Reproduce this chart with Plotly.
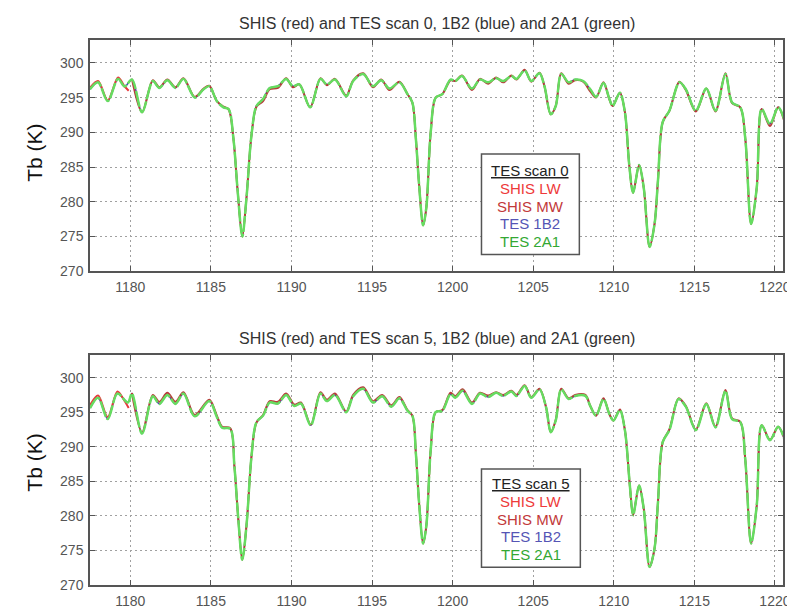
import plotly.graph_objects as go
from plotly.subplots import make_subplots

# ---------------- data ----------------
x_ticks = [1180, 1185, 1190, 1195, 1200, 1205, 1210, 1215, 1220]
y_ticks = [270, 275, 280, 285, 290, 295, 300]

# scan 0 (top panel)
wn0 = [1177.5, 1178.0, 1178.6, 1179.24, 1179.65, 1180.1, 1180.73, 1181.4, 1181.8, 1182.3,
       1182.8, 1183.3, 1184.0, 1184.55, 1184.9, 1185.37, 1185.78, 1186.1, 1186.4, 1186.66,
       1186.95, 1187.21, 1187.52, 1187.83, 1188.24, 1188.65, 1189.16, 1189.67, 1190.08, 1190.49,
       1191.16, 1191.8, 1192.2, 1192.7, 1193.4, 1193.83, 1194.45, 1195.06, 1195.57, 1196.08,
       1196.7, 1197.2, 1197.5, 1197.72, 1197.92, 1198.17, 1198.37, 1198.64, 1198.95, 1199.36,
       1199.87, 1200.17, 1200.58, 1201.2, 1201.7, 1202.2, 1202.7, 1203.14, 1203.65, 1203.96,
       1204.47, 1204.88, 1205.39, 1205.7, 1206.09, 1206.4, 1206.74, 1207.2, 1207.6, 1208.1,
       1208.54, 1208.9, 1209.36, 1209.73, 1209.93, 1210.38, 1210.69, 1210.96, 1211.2, 1211.57,
       1211.86, 1212.22, 1212.53, 1212.74, 1213.04, 1213.45, 1214.07, 1214.47, 1215.09, 1215.74,
       1216.31, 1216.93, 1217.34, 1217.85, 1218.16, 1218.52, 1218.87, 1219.18, 1219.69, 1220.2,
       1220.57]
tes_2a1_0 = [296.2, 297.2, 294.5, 297.7, 296.6, 297.6, 292.9, 297.4, 296.4, 297.5,
             296.4, 297.7, 295.0, 296.2, 296.65, 294.5, 293.6, 293.35, 289.1, 281.6,
             275.0, 280.6, 289.6, 293.8, 294.8, 296.4, 296.65, 297.7, 296.65, 296.9,
             293.6, 297.7, 296.9, 297.6, 295.2, 297.4, 298.4, 296.65, 297.5, 296.3,
             297.2, 295.5, 294.3, 289.1, 282.5, 276.6, 279.2, 290.0, 295.0, 295.5,
             297.6, 297.4, 298.1, 296.3, 297.6, 297.2, 297.8, 297.4, 298.1, 297.7,
             298.9, 297.4, 298.5, 296.65, 292.6, 293.8, 298.4, 297.2, 297.6, 297.4,
             296.2, 295.1, 297.1, 294.8, 293.8, 295.7, 292.9, 285.3, 281.3, 285.3,
             282.0, 273.5, 276.8, 283.0, 291.5, 293.1, 297.2, 296.2, 293.1, 296.3,
             293.1, 298.4, 294.3, 293.6, 289.1, 276.8, 282.0, 293.35, 291.2, 293.6,
             291.9]
tes_1b2_0 = tes_2a1_0
shis_lw_wn0 = [1177.5, 1178.0, 1178.6, 1179.24, 1179.65, 1179.9]
shis_lw_0 = [296.4, 297.4, 294.6, 297.9, 296.6, 296.0]
shis_mw_wn0 = wn0[5:]
shis_mw_0 = [297.7, 292.9, 297.5, 296.5, 297.6,
             296.5, 297.8, 295.1, 296.3, 296.7, 294.5, 293.7, 293.3, 289.1, 281.6,
             275.0, 280.6, 289.6, 293.7, 294.5, 296.2, 296.4, 297.8, 296.5, 296.9,
             293.6, 297.8, 296.8, 297.7, 295.3, 297.5, 298.5, 296.5, 297.6, 296.1,
             297.3, 295.5, 294.3, 289.1, 282.5, 276.6, 279.2, 290.0, 295.0, 295.5,
             297.5, 297.4, 298.2, 296.1, 297.7, 297.0, 297.9, 297.2, 298.2, 297.6,
             299.0, 297.3, 298.6, 296.6, 292.6, 293.8, 298.5, 297.0, 297.5, 297.3,
             295.9, 295.0, 297.2, 294.7, 293.8, 295.7, 292.9, 285.3, 281.3, 285.3,
             282.0, 273.5, 276.8, 283.0, 291.5, 293.1, 297.3, 296.1, 293.0, 296.3,
             293.0, 298.5, 294.2, 293.6, 289.1, 276.8, 282.0, 293.35, 290.9, 293.6,
             291.7]

# scan 5 (bottom panel)
wn5 = [1177.5, 1178.0, 1178.6, 1179.2, 1179.85, 1180.1, 1180.73, 1181.4, 1181.8, 1182.3,
       1182.8, 1183.3, 1184.0, 1184.9, 1185.37, 1185.7, 1186.2, 1186.46, 1186.7, 1186.95,
       1187.21, 1187.52, 1187.83, 1188.24, 1188.65, 1189.16, 1189.67, 1190.18, 1190.59, 1191.2,
       1191.8, 1192.2, 1192.7, 1193.4, 1193.83, 1194.45, 1195.06, 1195.63, 1196.2, 1196.7,
       1197.2, 1197.5, 1197.72, 1197.92, 1198.17, 1198.37, 1198.64, 1198.95, 1199.36, 1199.87,
       1200.17, 1200.62, 1201.2, 1201.7, 1202.2, 1202.7, 1203.14, 1203.65, 1203.96, 1204.47,
       1204.88, 1205.39, 1205.8, 1206.09, 1206.4, 1206.74, 1207.2, 1207.6, 1208.24, 1208.54,
       1208.9, 1209.36, 1209.73, 1209.98, 1210.38, 1210.69, 1211.0, 1211.2, 1211.57, 1211.86,
       1212.22, 1212.53, 1212.74, 1213.04, 1213.45, 1214.02, 1214.47, 1215.09, 1215.74, 1216.31,
       1216.93, 1217.34, 1217.85, 1218.16, 1218.52, 1218.87, 1219.18, 1219.69, 1220.2, 1220.57]
tes_2a1_5 = [295.6, 297.1, 294.0, 297.7, 296.4, 297.7, 291.9, 297.3, 296.2, 297.5,
             296.2, 297.7, 294.4, 296.6, 294.3, 292.75, 292.6, 287.2, 279.6, 273.65,
             278.6, 288.6, 293.55, 294.5, 296.4, 296.25, 297.5, 295.9, 296.25, 293.1,
             297.7, 296.6, 297.5, 295.0, 297.3, 298.4, 296.4, 297.3, 295.8, 297.0,
             295.2, 294.5, 289.05, 281.9, 276.0, 278.6, 289.5, 295.0, 295.2, 297.6,
             297.1, 298.1, 296.2, 297.7, 297.2, 297.8, 297.35, 298.0, 297.35, 298.8,
             297.1, 298.3, 295.7, 292.1, 293.8, 298.3, 296.9, 297.35, 297.35, 295.9,
             294.5, 296.9, 294.7, 293.8, 295.3, 292.4, 284.3, 280.1, 284.4, 281.0,
             272.6, 275.3, 281.9, 290.7, 292.4, 296.9, 295.8, 292.4, 296.2, 292.8,
             298.1, 294.0, 293.55, 288.1, 276.0, 281.5, 293.1, 290.95, 292.9, 291.2]
tes_1b2_5 = tes_2a1_5
shis_lw_wn5 = [1177.5, 1178.0, 1178.6, 1179.2, 1179.6, 1179.9]
shis_lw_5 = [296.0, 297.4, 294.3, 298.0, 296.8, 295.6]
shis_mw_wn5 = wn5[5:]
shis_mw_5 = [297.8, 292.1, 297.5, 296.5, 297.8,
             296.5, 297.9, 294.6, 296.8, 294.5, 292.9, 292.7, 287.2, 279.6, 273.65,
             278.6, 288.6, 293.5, 294.6, 296.6, 296.5, 297.7, 296.1, 296.4, 293.2,
             297.9, 296.8, 297.7, 295.1, 297.5, 298.6, 296.6, 297.5, 296.0, 297.2,
             295.3, 294.5, 289.05, 281.9, 276.0, 278.6, 289.5, 295.0, 295.3, 297.8,
             297.3, 298.3, 296.4, 297.8, 297.4, 297.9, 297.5, 298.1, 297.5, 298.9,
             297.2, 298.4, 295.7, 292.1, 293.9, 298.4, 297.0, 297.5, 297.5, 295.9,
             294.5, 297.0, 294.7, 293.8, 295.4, 292.4, 284.3, 280.1, 284.4, 281.0,
             272.6, 275.3, 281.9, 290.7, 292.5, 297.0, 295.9, 292.5, 296.3, 292.9,
             298.2, 294.1, 293.6, 288.1, 276.0, 281.5, 293.1, 291.0, 292.9, 291.3]

titles = ["SHIS (red) and TES scan 0, 1B2 (blue) and 2A1 (green)",
          "SHIS (red) and TES scan 5, 1B2 (blue) and 2A1 (green)"]
legend_heads = ["TES scan 0", "TES scan 5"]
legend_names = ["SHIS LW", "SHIS MW", "TES 1B2", "TES 2A1"]

# ---------------- styling ----------------
FONT = "Liberation Sans, Arial, Helvetica, sans-serif"
W, H = 795, 613
ML, MR, MT, MB = 82, 12, 32, 27
PW, PH = W - ML - MR, H - MT - MB
C_LW, C_MW, C_1B2, C_2A1 = "#e8383c", "#b83a3a", "#4a4ab8", "#66dc60"
TXT_LW, TXT_MW, TXT_1B2, TXT_2A1 = "#ee3a3a", "#c23a3a", "#5555b5", "#33a833"


def px_x(px):
    return (px - ML) / PW


def px_y(py):
    return (H - MB - py) / PH


fig = make_subplots(rows=2, cols=1)

panels = [
    (wn0, tes_2a1_0, tes_1b2_0, shis_lw_wn0, shis_lw_0, shis_mw_wn0, shis_mw_0),
    (wn5, tes_2a1_5, tes_1b2_5, shis_lw_wn5, shis_lw_5, shis_mw_wn5, shis_mw_5),
]
for i, (wn, t2a1, t1b2, lwx, lwy, mwx, mwy) in enumerate(panels):
    r = i + 1
    line_common = dict(shape="spline", smoothing=0.9)
    fig.add_trace(go.Scatter(x=wn, y=t1b2, mode="lines", name=legend_names[2],
                             line=dict(color=C_1B2, width=1.5, **line_common),
                             showlegend=False), row=r, col=1)
    fig.add_trace(go.Scatter(x=lwx, y=lwy, mode="lines", name=legend_names[0],
                             line=dict(color=C_LW, width=2, **line_common),
                             showlegend=False), row=r, col=1)
    fig.add_trace(go.Scatter(x=mwx, y=mwy, mode="lines", name=legend_names[1],
                             line=dict(color=C_MW, width=2, **line_common),
                             showlegend=False), row=r, col=1)
    fig.add_trace(go.Scatter(x=wn, y=t2a1, mode="lines", name=legend_names[3],
                             line=dict(color=C_2A1, width=2.5, dash="16px,2px", **line_common),
                             showlegend=False), row=r, col=1)

axis_common = dict(
    showline=True, linecolor="#555", linewidth=1.5, mirror="ticks",
    ticks="inside", ticklen=5, tickwidth=1, tickcolor="#555",
    showgrid=True, gridcolor="#a0a0a0", gridwidth=1, griddash="2px,3px",
    zeroline=False, tickfont=dict(family=FONT, size=14, color="#555"),
)
top_dom = [px_y(267), px_y(32)]
bot_dom = [px_y(586), px_y(352)]
fig.update_layout(
    xaxis=dict(range=[1177.5, 1220.5], tickvals=x_ticks, domain=[0, 1], anchor="y",
               ticklabelstandoff=2, **axis_common),
    yaxis=dict(range=[270, 303.3], tickvals=y_ticks, domain=top_dom, anchor="x",
               ticklabelstandoff=2, **axis_common),
    xaxis2=dict(range=[1177.5, 1220.5], tickvals=x_ticks, domain=[0, 1], anchor="y2",
                ticklabelstandoff=2, **axis_common),
    yaxis2=dict(range=[270, 303.3], tickvals=y_ticks, domain=bot_dom, anchor="x2",
                ticklabelstandoff=2, **axis_common),
)

annotations = []
shapes = []
title_y = [15, 335]
label_y = [147, 462]
box = [(478, 148, 577, 250), (478, 468, 578, 568)]
first_line = [165, 483]
for i in range(2):
    annotations.append(dict(text=titles[i], x=0.5, y=px_y(title_y[i]), xref="paper", yref="paper",
                            showarrow=False, xanchor="center", yanchor="middle",
                            font=dict(family=FONT, size=16, color="#333")))
    annotations.append(dict(text="Tb (K)", x=px_x(25), y=px_y(label_y[i]), xref="paper", yref="paper",
                            showarrow=False, textangle=-90, xanchor="center", yanchor="middle",
                            font=dict(family=FONT, size=21, color="#111")))
    x0, y0, x1, y1 = box[i]
    shapes.append(dict(type="rect", xref="paper", yref="paper",
                       x0=px_x(x0), x1=px_x(x1), y0=px_y(y1), y1=px_y(y0),
                       line=dict(color="#555", width=1.5), fillcolor="white", layer="above"))
    cx = px_x((x0 + x1) / 2)
    lines = [("<u>" + legend_heads[i] + "</u>", "#222")] + list(
        zip(legend_names, [TXT_LW, TXT_MW, TXT_1B2, TXT_2A1]))
    for k, (txt, col) in enumerate(lines):
        annotations.append(dict(text=txt, x=cx, y=px_y(first_line[i] + 18 * k), xref="paper",
                                yref="paper", showarrow=False, xanchor="center", yanchor="middle",
                                font=dict(family=FONT, size=15, color=col)))

fig.update_layout(
    width=W, height=H, margin=dict(l=ML, r=MR, t=MT, b=MB),
    paper_bgcolor="white", plot_bgcolor="white",
    annotations=annotations, shapes=shapes, showlegend=False,
)

fig.write_html("out.html")
